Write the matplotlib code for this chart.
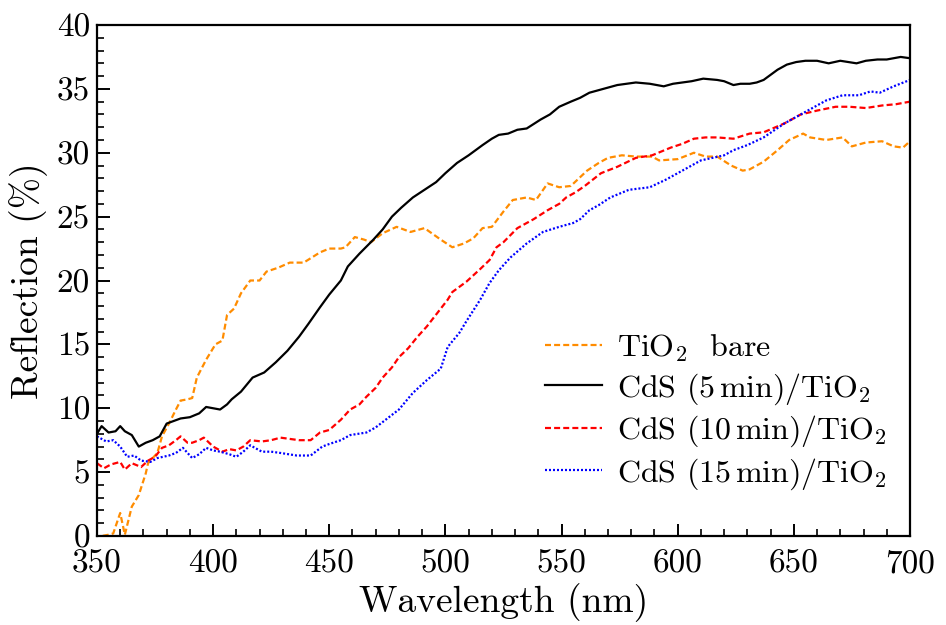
import matplotlib
matplotlib.use("Agg")
import matplotlib.pyplot as plt
from matplotlib.ticker import MultipleLocator

# ---- data ----
wl_bare = [350, 352, 355, 357, 360, 362, 365, 368, 371, 372, 376, 378, 381, 384, 386, 389, 391,
           393, 397, 401, 404, 406, 409, 412, 416, 420, 423, 428, 433, 439, 446, 450, 455, 457,
           461, 465, 468, 473, 479, 485, 491, 498, 503, 508, 512, 516, 520, 525, 529, 535, 539,
           544, 549, 554, 561, 566, 570, 576, 582, 589, 592, 600, 607, 612, 617, 623, 628, 631,
           637, 643, 648, 654, 657, 664, 671, 675, 681, 688, 693, 697, 700]
r_bare = [-0.5, 0.0, 0.1, 0.2, 1.8, 0.1, 2.3, 3.2, 4.9, 5.7, 6.5, 7.8, 8.8, 9.9, 10.6, 10.7, 10.8,
          12.4, 13.8, 15.0, 15.3, 17.3, 17.8, 19.0, 20.0, 20.0, 20.7, 21.0, 21.4, 21.4, 22.2, 22.5,
          22.5, 22.6, 23.4, 23.2, 23.0, 23.7, 24.2, 23.8, 24.1, 23.2, 22.6, 22.9, 23.3, 24.1, 24.2,
          25.4, 26.3, 26.5, 26.3, 27.6, 27.3, 27.4, 28.6, 29.2, 29.6, 29.8, 29.7, 29.7, 29.4, 29.5,
          30.0, 29.7, 29.7, 29.0, 28.6, 28.7, 29.3, 30.2, 31.0, 31.5, 31.2, 31.0, 31.2, 30.5, 30.8,
          30.9, 30.5, 30.4, 30.9]

wl_5 = [350, 352, 355, 358, 360, 362, 365, 368, 371, 374, 377, 380, 383, 386, 390, 394, 397, 400,
        403, 406, 408, 412, 417, 422, 427, 432, 437, 441, 446, 450, 455, 458, 463, 469, 473, 477,
        481, 486, 491, 496, 500, 505, 510, 516, 520, 523, 527, 531, 535, 541, 545, 549, 554, 558,
        562, 568, 574, 578, 582, 588, 594, 598, 602, 606, 611, 617, 620, 624, 627, 631, 634, 637,
        640, 643, 647, 651, 655, 660, 665, 670, 677, 681, 686, 690, 696, 700]
r_5 = [8.0, 8.6, 8.1, 8.2, 8.6, 8.2, 7.9, 7.0, 7.3, 7.5, 7.8, 8.8, 9.0, 9.2, 9.3, 9.6, 10.1, 10.0,
       9.9, 10.3, 10.7, 11.3, 12.4, 12.8, 13.6, 14.5, 15.6, 16.6, 17.9, 18.9, 20.0, 21.1, 22.1, 23.2,
       24.0, 25.0, 25.7, 26.5, 27.1, 27.7, 28.4, 29.2, 29.8, 30.6, 31.1, 31.4, 31.5, 31.8, 31.9, 32.6,
       33.0, 33.6, 34.0, 34.3, 34.7, 35.0, 35.3, 35.4, 35.5, 35.4, 35.2, 35.4, 35.5, 35.6, 35.8, 35.7,
       35.6, 35.3, 35.4, 35.4, 35.5, 35.7, 36.1, 36.5, 36.9, 37.1, 37.2, 37.2, 37.0, 37.2, 37.0, 37.2,
       37.3, 37.3, 37.5, 37.4]

wl_10 = [350, 353, 356, 360, 362, 365, 369, 372, 375, 378, 381, 384, 386, 389, 391, 394, 396, 400,
         404, 407, 410, 413, 416, 421, 425, 429, 433, 437, 442, 446, 450, 455, 459, 463, 466, 470,
         473, 477, 480, 484, 488, 492, 495, 501, 503, 509, 515, 519, 522, 525, 531, 538, 544, 549,
         552, 556, 560, 567, 574, 582, 589, 597, 602, 607, 612, 617, 624, 631, 637, 646, 653, 660,
         668, 674, 681, 688, 694, 700]
r_10 = [5.7, 5.3, 5.6, 5.8, 5.2, 5.7, 5.4, 5.9, 6.2, 6.9, 7.1, 7.5, 7.8, 7.3, 7.3, 7.5, 7.7, 7.0,
        6.6, 6.8, 6.7, 7.0, 7.5, 7.4, 7.5, 7.7, 7.6, 7.5, 7.5, 8.1, 8.3, 9.1, 9.9, 10.3, 10.9, 11.6,
        12.4, 13.2, 14.0, 14.7, 15.6, 16.4, 17.1, 18.5, 19.1, 19.9, 20.9, 21.6, 22.6, 23.0, 24.1, 24.8,
        25.5, 26.0, 26.5, 26.9, 27.4, 28.4, 28.9, 29.6, 29.8, 30.4, 30.7, 31.1, 31.2, 31.2, 31.1, 31.5,
        31.6, 32.3, 33.0, 33.3, 33.6, 33.6, 33.5, 33.7, 33.8, 34.0]

wl_15 = [350, 354, 357, 360, 363, 366, 369, 373, 376, 381, 384, 387, 391, 394, 397, 400, 403, 407,
         410, 413, 416, 421, 425, 429, 436, 442, 447, 450, 455, 459, 466, 470, 475, 480, 486, 492,
         498, 501, 506, 509, 515, 519, 523, 528, 535, 542, 549, 555, 558, 562, 566, 571, 579, 588,
         595, 602, 610, 615, 620, 624, 630, 637, 646, 656, 664, 671, 678, 683, 687, 693, 700]
r_15 = [7.8, 7.4, 7.5, 7.0, 6.2, 6.3, 5.9, 5.8, 6.1, 6.3, 6.5, 6.9, 6.1, 6.4, 6.9, 6.7, 6.6, 6.4,
        6.2, 6.6, 7.1, 6.6, 6.6, 6.5, 6.3, 6.3, 7.0, 7.2, 7.5, 7.9, 8.1, 8.5, 9.2, 9.9, 11.2, 12.2,
        13.1, 14.8, 15.9, 16.8, 18.5, 19.8, 20.8, 21.8, 22.9, 23.8, 24.2, 24.5, 24.8, 25.5, 25.9, 26.5,
        27.1, 27.3, 27.9, 28.6, 29.4, 29.6, 29.8, 30.2, 30.6, 31.2, 32.3, 33.3, 34.1, 34.5, 34.5, 34.8,
        34.7, 35.2, 35.7]

labels = [r"TiO$_2$  bare", r"CdS (5$\,$min)/TiO$_2$",
          r"CdS (10$\,$min)/TiO$_2$", r"CdS (15$\,$min)/TiO$_2$"]
xticks = [350, 400, 450, 500, 550, 600, 650, 700]
yticks = [0, 5, 10, 15, 20, 25, 30, 35, 40]

plt.rcParams["font.family"] = ["cmr10", "DejaVu Serif"]
plt.rcParams["mathtext.fontset"] = "cm"
plt.rcParams["axes.unicode_minus"] = False
plt.rcParams["axes.formatter.use_mathtext"] = False

fig = plt.figure(figsize=(9.46, 6.25), dpi=100)
ax = fig.add_axes([0.1025, 0.1424, 0.8594, 0.8176])

lw = 1.6
ax.plot(wl_bare, r_bare, color="#ff8c00", lw=lw, ls=(0, (2.7, 1.4)), label=labels[0])
ax.plot(wl_5, r_5, color="black", lw=lw, ls="-", label=labels[1])
ax.plot(wl_10, r_10, color="#ff0000", lw=lw, ls=(0, (2.7, 1.4)), label=labels[2])
ax.plot(wl_15, r_15, color="#0000ff", lw=lw, ls=(0, (0.9, 0.9)), label=labels[3])

ax.set_xlim(350, 700)
ax.set_ylim(0, 40)
ax.set_xticks(xticks)
ax.set_yticks(yticks)
ax.set_xticklabels([str(t) for t in xticks])
ax.set_yticklabels([str(t) for t in yticks])
ax.xaxis.set_minor_locator(MultipleLocator(10))
ax.yaxis.set_minor_locator(MultipleLocator(1))
ax.tick_params(which="major", direction="in", length=9, width=1.4, labelsize=24)
ax.tick_params(axis="x", which="major", pad=10)
ax.tick_params(axis="y", which="major", pad=5)
ax.tick_params(which="minor", direction="in", length=5, width=1.2)
ax.tick_params(top=False, right=False, which="both")
for s in ax.spines.values():
    s.set_linewidth(1.6)

ax.set_xlabel("Wavelength (nm)", fontsize=27, labelpad=3)
ax.set_ylabel("Reflection (%)", fontsize=27, labelpad=6)

leg = ax.legend(loc="upper left", bbox_to_anchor=(0.551, 0.398), frameon=False, fontsize=23,
                handlelength=1.8, handletextpad=0.47, labelspacing=0.22, borderaxespad=0,
                borderpad=0)

fig.savefig("out.png", dpi=100)
